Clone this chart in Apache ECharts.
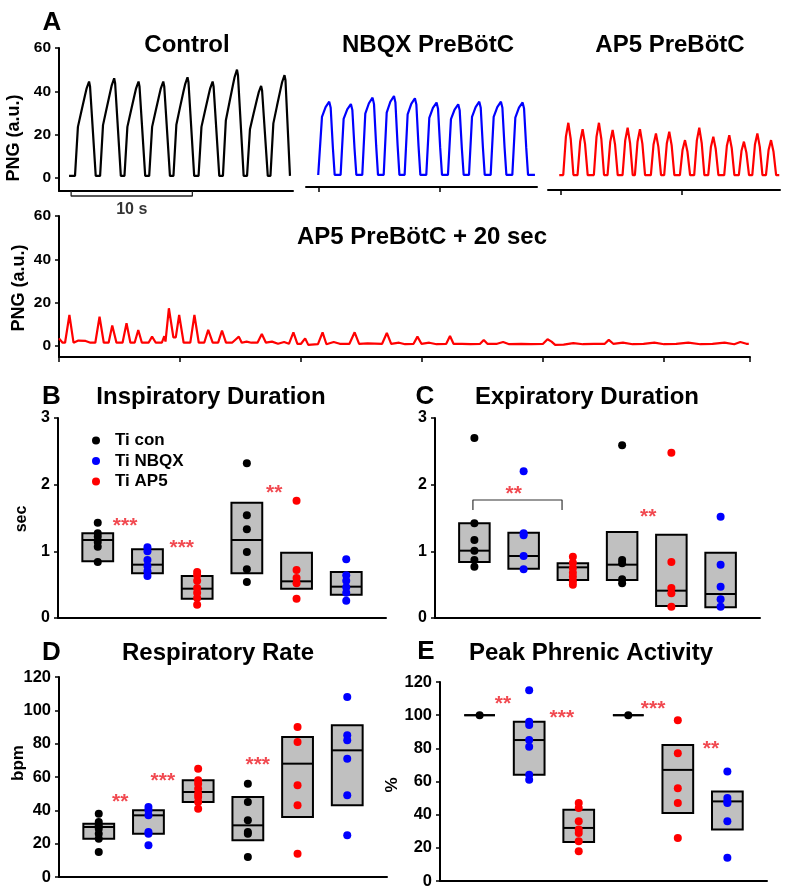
<!DOCTYPE html>
<html><head><meta charset="utf-8">
<script src="https://cdn.jsdelivr.net/npm/echarts@6/dist/echarts.min.js"></script>
<style>html,body{margin:0;padding:0;background:#fff}#c{width:800px;height:893px}</style>
</head><body><div id="c"></div>
<script>
// ================= DATA =================
// Panel A traces: [time (s), PNG (a.u.)]
const traceTicks = [0, 20, 40, 60];
const timeTicks = [0, 10];
const controlTrace = [
[0.83,1],[1.32,1],[1.56,23.6],[1.86,31.2],[2.15,38.3],[2.28,41.4],[2.48,44.5],[2.56,42.3],[3.03,1],
[3.39,1],[3.63,24.4],[3.93,32.2],[4.22,39.6],[4.35,42.8],[4.55,46],[4.63,43.7],[5.10,1],
[5.40,1],[5.64,23.6],[5.94,31.2],[6.23,38.3],[6.36,41.4],[6.56,44.5],[6.64,42.3],[7.11,1],
[7.44,1],[7.68,23.6],[7.98,31.2],[8.27,38.3],[8.40,41.4],[8.60,44.5],[8.68,42.3],[9.15,1],
[9.44,1],[9.68,24.6],[9.98,32.6],[10.27,40],[10.40,43.2],[10.6,46.5],[10.68,44.2],[11.15,1],
[11.51,1],[11.75,23.6],[12.05,31.2],[12.34,38.3],[12.47,41.4],[12.67,44.5],[12.75,42.3],[13.22,1],
[13.52,1],[13.76,26.5],[14.06,35],[14.35,43],[14.48,46.5],[14.68,50],[14.76,47.5],[15.23,1],
[15.51,1],[15.75,22.5],[16.05,29.8],[16.34,36.6],[16.47,39.5],[16.67,42.5],[16.75,40.4],[17.22,1],
[17.44,1],[17.68,25.2],[17.98,33.3],[18.27,40.9],[18.40,44.2],[18.6,47.5],[18.68,45.1],[19.05,1]
];
const nbqxTrace = [
[-0.06,1.4],
[0.0,1.4],[0.25,28.2],[0.55,32.7],[0.85,35.2],[0.97,32.4],[1.15,14.1],[1.3,1.4],
[1.79,1.4],[2.04,27.3],[2.34,31.7],[2.64,34.1],[2.76,31.4],[2.94,13.6],[3.09,1.4],
[3.58,1.4],[3.83,29.7],[4.13,34.5],[4.43,37.1],[4.55,34.1],[4.73,14.8],[4.88,1.4],
[5.35,1.4],[5.6,30.2],[5.9,35.2],[6.2,37.8],[6.32,34.8],[6.5,15.1],[6.65,1.4],
[7.08,1.4],[7.33,29.4],[7.63,34.2],[7.93,36.8],[8.05,33.9],[8.23,14.7],[8.38,1.4],
[8.87,1.4],[9.12,27.8],[9.42,32.4],[9.72,34.8],[9.84,32],[10.02,13.9],[10.17,1.4],
[10.66,1.4],[10.91,27.2],[11.21,31.6],[11.51,34],[11.63,31.3],[11.81,13.6],[11.96,1.4],
[12.4,1.4],[12.65,28.2],[12.95,32.7],[13.25,35.2],[13.37,32.4],[13.55,14.1],[13.7,1.4],
[14.19,1.4],[14.44,28.2],[14.74,32.7],[15.04,35.2],[15.16,32.4],[15.34,14.1],[15.49,1.4],
[15.98,1.4],[16.23,27.9],[16.53,32.5],[16.83,34.9],[16.95,32.1],[17.13,14],[17.28,1.4],
[17.85,1.4]
];
const ap5Trace = [
[-0.14,1.4],
[0.19,1.4],[0.41,19.1],[0.61,25.5],[0.81,17.9],[1.03,1.4],
[1.37,1.4],[1.59,16.9],[1.79,22.5],[1.99,15.8],[2.21,1.4],
[2.72,1.4],[2.94,19.1],[3.14,25.5],[3.34,17.9],[3.56,1.4],
[3.85,1.4],[4.07,16.7],[4.27,22.2],[4.47,15.5],[4.69,1.4],
[5.09,1.4],[5.31,17.4],[5.51,23.2],[5.71,16.2],[5.93,1.4],
[6.11,1.4],[6.33,16.9],[6.53,22.5],[6.73,15.8],[6.95,1.4],
[7.43,1.4],[7.65,15.5],[7.85,20.6],[8.05,14.4],[8.27,1.4],
[8.53,1.4],[8.75,16.1],[8.95,21.4],[9.15,15],[9.37,1.4],
[9.83,1.4],[10.05,13.1],[10.25,17.5],[10.45,12.3],[10.67,1.4],
[11.01,1.4],[11.23,17.4],[11.43,23.2],[11.63,16.2],[11.85,1.4],
[12.17,1.4],[12.39,14.3],[12.59,19.1],[12.79,13.4],[13.01,1.4],
[13.49,1.4],[13.71,14.9],[13.91,19.8],[14.11,13.9],[14.33,1.4],
[14.7,1.4],[14.92,12.6],[15.12,16.8],[15.32,11.8],[15.54,1.4],
[15.81,1.4],[16.03,15.5],[16.23,20.6],[16.43,14.4],[16.65,1.4],
[16.94,1.4],[17.16,13.1],[17.36,17.5],[17.56,12.3],[17.78,1.4],
[18.04,1.4]
];
const ap5LateTrace = [
[0,3.5],[0.3,1.5],[0.5,1.5],[0.86,14.3],[1.2,1.5],[1.6,2.5],[2.2,2.3],[2.6,1.5],[3.0,1.5],[3.35,13.5],[3.7,1.5],
[4.1,1.5],[4.4,9.4],[4.75,1.5],[5.25,1.5],[5.58,10.5],[5.9,1.5],[6.25,1.5],[6.55,7.4],[6.85,1.5],[7.4,1.5],
[7.69,4.3],[8.0,1.5],[8.5,1.5],[8.7,4.5],[8.8,2],[9.08,17.4],[9.45,4],[9.65,4],[9.93,14.3],[10.3,1.5],
[10.85,1.5],[11.19,14.3],[11.55,1.5],[12.0,1.5],[12.33,7.4],[12.7,1.5],[13.15,1.5],[13.47,7.1],[13.8,1.5],
[14.3,1.5],[14.6,3],[14.86,4.3],[15.1,1.5],[15.5,2],[15.9,1.5],[16.4,1.5],[16.76,5.5],[17.1,1.5],[17.6,2],
[18.1,1],[18.6,1.8],[19.0,1],[19.37,6.3],[19.7,1],[20.0,1],[20.34,3.5],[20.6,0.5],[21.4,0.8],[21.78,6.3],
[22.1,0.8],[22.7,1.8],[23.2,1],[24.0,1],[24.43,6.3],[24.8,1],[25.5,1.2],[26.7,1],[27.09,6],[27.45,1],
[28.1,1.5],[28.6,0.8],[29.3,1],[29.62,4.3],[29.95,1],[30.6,1.5],[31.2,0.8],[32.0,1],[32.31,4.6],[32.6,1],
[33.3,1],[34.0,0.8],[34.8,1],[35.1,2.8],[35.4,1],[36.2,1],[36.7,1.8],[37.2,0.8],[38.2,1],[39.0,0.8],
[40.0,1],[40.37,3.1],[40.7,2],[41.0,0.5],[41.7,0.6],[42.5,1.3],[43.3,0.8],[44.2,1],[45.1,1],[45.43,2.8],
[45.8,1],[46.6,1.5],[47.4,0.8],[48.3,1],[49.2,1.5],[50.0,0.8],[51.0,1],[52.0,1.5],[53.0,0.8],[54.0,1],
[55.0,1.5],[55.8,0.8],[56.3,1.8],[56.8,1],[57.0,1]
];
const scaleBar = [[1,-6],[1,-8.3],[11,-8.3],[11,-6]];
const scaleBarLabel = [[6,-14.4,'10 s']];

// Panels B-E: six groups
const groupX = [1,2,3,4,5,6];
const groupDrug = ['con','NBQX','AP5','con','AP5','NBQX'];
const drugNames = ['con','NBQX','AP5'];
const legendLabels = ['Ti con','Ti NBQX','Ti AP5'];

// boxes: [Q1, median, Q3]
const inspBox = [[0.85,1.17,1.27],[0.67,0.80,1.03],[0.29,0.44,0.63],[0.67,1.17,1.73],[0.44,0.55,0.98],[0.35,0.47,0.69]];
const inspDots = [[1.43,1.27,1.22,1.14,1.07,0.84],[1.06,1.0,0.87,0.78,0.7,0.63],[0.69,0.64,0.56,0.45,0.38,0.3,0.2],[2.32,1.54,1.33,0.99,0.73,0.54],[1.76,0.72,0.6,0.52,0.29],[0.88,0.64,0.56,0.46,0.38,0.26]];
const inspStars = [[1.55,1.38,'***'],[2.69,1.05,'***'],[4.55,1.87,'**']];

const expBox = [[0.84,1.01,1.42],[0.74,0.93,1.28],[0.57,0.76,0.82],[0.57,0.8,1.29],[0.18,0.41,1.25],[0.16,0.36,0.98]];
const expDots = [[2.7,1.42,1.17,1.01,0.87,0.77],[2.2,1.27,1.24,0.93,0.73],[0.92,0.83,0.75,0.68,0.62,0.55,0.5],[2.59,0.87,0.82,0.58,0.52],[2.48,0.84,0.45,0.37,0.17],[1.52,0.8,0.47,0.28,0.17]];
const expStars = [[1.8,1.86,'**'],[4.53,1.51,'**']];
const expBracket = [[0.97,1.62],[0.97,1.77],[2.78,1.77],[2.78,1.62]];

const rateBox = [[23,30,32],[26,37,40],[45,51,58],[22,31,48],[36,68,84],[43,76,91]];
const rateDots = [[38,33,31,29,26,23,15],[42,40,37,27,26,19],[65,58,56,53,50,48,45,41],[56,45,34,27,26,12],[90,81,55,43,14],[108,85,82,71,49,25]];
const rateStars = [[1.43,45,'**'],[2.29,57.6,'***'],[4.2,67.2,'***']];

const peakBox = [[100,100,100],[64,85,96],[23.5,32,43],[100,100,100],[41,67,82],[31,48,54]];
const peakDots = [[100],[115,96,94,85,81,64,61],[47,44,36,31,29,24,18],[100],[97,77,56,47,26],[66,50,48,47,36,14]];
const peakStars = [[1.47,106.8,'**'],[2.66,98.3,'***'],[4.5,103.7,'***'],[5.67,79.6,'**']];

// ================= STYLE =================
const FONT = '"Liberation Sans", Arial, Helvetica, sans-serif';
const COLORS = {con:'#000000', NBQX:'#0000ff', AP5:'#ff0000'};
const STAR_COLOR = '#ee1c24';
const BOX_FILL = '#c0c0c0';
const BOX_W = 0.62;

const grids = [
  {left:59, top:48, width:234, height:143},   // 0 control
  {left:306, top:48, width:231, height:139},  // 1 NBQX
  {left:548, top:48, width:232, height:142},  // 2 AP5
  {left:59, top:216, width:691, height:141},  // 3 AP5 +20s
  {left:58, top:418, width:328, height:200},  // 4 B
  {left:435, top:418, width:325, height:200}, // 5 C
  {left:59, top:677, width:328, height:200},  // 6 D
  {left:440, top:682, width:327, height:199}  // 7 E
];

const axLine = {onZero:false, lineStyle:{color:'#000', width:2}};
const lblStyle = (size) => ({color:'#000', fontFamily:FONT, fontWeight:'bold', fontSize:size});

const xAxes = [
  {gridIndex:0, type:'value', min:0, max:19.3, axisLine:axLine, axisTick:{show:false}, axisLabel:{show:false}, splitLine:{show:false}},
  {gridIndex:1, type:'value', min:-1.07, max:18.02, axisLine:axLine, axisTick:{show:true, customValues:timeTicks, length:5, lineStyle:{color:'#000', width:1.5}}, axisLabel:{show:false}, splitLine:{show:false}},
  {gridIndex:2, type:'value', min:-1.07, max:18.1, axisLine:axLine, axisTick:{show:true, customValues:timeTicks, length:5, lineStyle:{color:'#000', width:1.5}}, axisLabel:{show:false}, splitLine:{show:false}},
  {gridIndex:3, type:'value', min:0, max:57.1, interval:10, axisLine:axLine, axisTick:{show:true, length:5, lineStyle:{color:'#000', width:1.5}}, axisLabel:{show:false}, splitLine:{show:false}},
];
for (let g = 4; g < 8; g++) {
  xAxes.push({gridIndex:g, type:'value', min:0.2, max:6.8, axisLine:axLine, axisTick:{show:false}, axisLabel:{show:false}, splitLine:{show:false}});
}
const yAxes = [
  {gridIndex:0, type:'value', min:-6, max:60, axisLine:axLine, axisTick:{show:true, customValues:traceTicks, length:4, lineStyle:{color:'#000', width:1.5}}, axisLabel:Object.assign({customValues:traceTicks, margin:8}, lblStyle(15.5)), splitLine:{show:false}},
  {gridIndex:1, type:'value', min:-4.15, max:60, show:false, axisLine:{onZero:false}},
  {gridIndex:2, type:'value', min:-5.5, max:60, show:false, axisLine:{onZero:false}},
  {gridIndex:3, type:'value', min:-5.1, max:60, axisLine:axLine, axisTick:{show:true, customValues:traceTicks, length:4, lineStyle:{color:'#000', width:1.5}}, axisLabel:Object.assign({customValues:traceTicks, margin:8}, lblStyle(15.5)), splitLine:{show:false}},
  {gridIndex:4, type:'value', min:0, max:3, interval:1, axisLine:axLine, axisTick:{length:4, lineStyle:{color:'#000', width:1.5}}, axisLabel:Object.assign({margin:8}, lblStyle(16)), splitLine:{show:false}},
  {gridIndex:5, type:'value', min:0, max:3, interval:1, axisLine:axLine, axisTick:{length:4, lineStyle:{color:'#000', width:1.5}}, axisLabel:Object.assign({margin:8}, lblStyle(16)), splitLine:{show:false}},
  {gridIndex:6, type:'value', min:0, max:120, interval:20, axisLine:axLine, axisTick:{length:4, lineStyle:{color:'#000', width:1.5}}, axisLabel:Object.assign({margin:8}, lblStyle(16.5)), splitLine:{show:false}},
  {gridIndex:7, type:'value', min:0, max:120, interval:20, axisLine:axLine, axisTick:{length:4, lineStyle:{color:'#000', width:1.5}}, axisLabel:Object.assign({margin:8}, lblStyle(16.5)), splitLine:{show:false}}
];

const series = [];
function trace(idx, data, color, name) {
  series.push({name, type:'line', xAxisIndex:idx, yAxisIndex:idx, data, symbol:'none', showSymbol:false,
    lineStyle:{color, width:2.2}, itemStyle:{color}, animation:false, z:3});
}
trace(0, controlTrace, COLORS.con, 'Control trace');
trace(1, nbqxTrace, COLORS.NBQX, 'NBQX trace');
trace(2, ap5Trace, COLORS.AP5, 'AP5 trace');
trace(3, ap5LateTrace, COLORS.AP5, 'AP5 +20 trace');
series.push({name:'scale bar', type:'line', xAxisIndex:0, yAxisIndex:0, data:scaleBar, symbol:'none', clip:false,
  lineStyle:{color:'#222', width:1.3}, animation:false});
series.push({name:'scale label', type:'scatter', xAxisIndex:0, yAxisIndex:0, data:scaleBarLabel, symbolSize:1, clip:false,
  itemStyle:{color:'transparent'}, animation:false,
  label:{show:true, position:'inside', formatter:p => p.data[2], color:'#000', fontFamily:FONT, fontWeight:'bold', fontSize:16}});

function renderBox(params, api) {
  const x = api.value(0);
  const top = api.coord([x, api.value(3)]);
  const bot = api.coord([x, api.value(1)]);
  const med = api.coord([x, api.value(2)]);
  const w = api.size([BOX_W, 0])[0];
  return {type:'group', children:[
    {type:'rect', shape:{x:top[0]-w/2, y:top[1], width:w, height:bot[1]-top[1]}, style:{fill:BOX_FILL, stroke:'#000', lineWidth:2}},
    {type:'line', shape:{x1:med[0]-w/2, y1:med[1], x2:med[0]+w/2, y2:med[1]}, style:{stroke:'#000', lineWidth:2}}
  ]};
}

function panel(idx, boxes, dots, stars, names, prefix) {
  series.push({name:prefix+' boxes', type:'custom', xAxisIndex:idx, yAxisIndex:idx, renderItem:renderBox,
    data:boxes.map((b,i)=>[groupX[i], b[0], b[1], b[2]]), encode:{x:0, y:[1,2,3]}, animation:false, z:2});
  drugNames.forEach((d, k) => {
    const pts = [];
    dots.forEach((arr, i) => { if (groupDrug[i] === d) arr.forEach(v => pts.push([groupX[i], v])); });
    series.push({name: names ? names[k] : prefix+' '+d, type:'scatter', xAxisIndex:idx, yAxisIndex:idx, data:pts,
      symbolSize:8, itemStyle:{color:COLORS[d], opacity:1}, animation:false, z:4});
  });
  series.push({name:prefix+' stars', type:'scatter', xAxisIndex:idx, yAxisIndex:idx, data:stars, symbolSize:1, clip:false,
    itemStyle:{color:'transparent'}, animation:false, z:5,
    label:{show:true, position:'inside', formatter:p => p.data[2], color:STAR_COLOR, fontFamily:FONT, fontWeight:'bold', fontSize:21}});
}
panel(4, inspBox, inspDots, inspStars, legendLabels, 'B');
panel(5, expBox, expDots, expStars, null, 'C');
panel(6, rateBox, rateDots, rateStars, null, 'D');
panel(7, peakBox, peakDots, peakStars, null, 'E');
series.push({name:'C bracket', type:'line', xAxisIndex:5, yAxisIndex:5, data:expBracket, symbol:'none',
  lineStyle:{color:'#333', width:1.2}, animation:false});

function txt(x, y, text, size, rot) {
  return {type:'text', x, y, rotation: rot ? Math.PI/2 : 0, z:10,
    style:{text, font:'bold '+size+'px '+FONT, fill:'#000', textAlign:'center', textVerticalAlign:'middle', align:'center', verticalAlign:'middle'}};
}
const graphics = [
  txt(52,23,'A',26), txt(51.5,397,'B',26), txt(425,397,'C',26), txt(51.5,653,'D',26), txt(426,652,'E',26),
  txt(187,45,'Control',24), txt(428,45,'NBQX PreBötC',24), txt(670,45,'AP5 PreBötC',24),
  txt(422,237.5,'AP5 PreBötC + 20 sec',24),
  txt(211,397,'Inspiratory Duration',24), txt(587,397,'Expiratory Duration',24),
  txt(218,653,'Respiratory Rate',24), txt(591,653,'Peak Phrenic Activity',24),
  txt(14,138,'PNG (a.u.)',18,true), txt(19,288,'PNG (a.u.)',18,true),
  txt(22,519,'sec',16,true), txt(18,763,'bpm',17,true), txt(392,785,'%',17,true)
];

const chart = echarts.init(document.getElementById('c'), null, {renderer:'canvas'});
chart.setOption({
  animation:false,
  backgroundColor:'#fff',
  grid:grids,
  xAxis:xAxes,
  yAxis:yAxes,
  legend:{data:legendLabels, left:87, top:427, orient:'vertical', icon:'circle', itemWidth:8, itemHeight:8, itemGap:3.5,
    textStyle:{fontFamily:FONT, fontWeight:'bold', fontSize:17, color:'#000', padding:[0,0,0,10]}, selectedMode:false},
  graphic:graphics,
  series
});
</script></body></html>
